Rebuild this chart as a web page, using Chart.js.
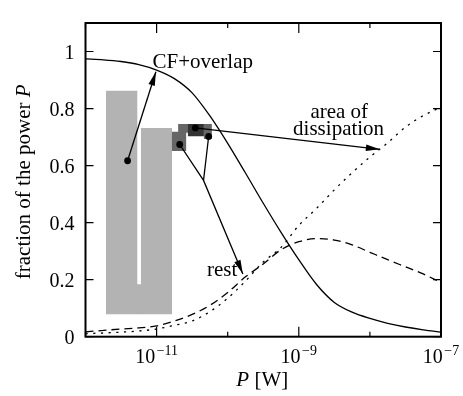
<!DOCTYPE html>
<html>
<head>
<meta charset="utf-8">
<script src="https://cdn.jsdelivr.net/npm/chart.js@4.4.0/dist/chart.umd.min.js"></script>
<style>
  html, body { margin: 0; padding: 0; background: #fff; }
  #wrap { width: 463px; height: 396px; }
</style>
</head>
<body>
<div id="wrap"><canvas id="chart"></canvas></div>
<script>
// Fractions of the power P, sampled at log10(P / W)
const exponents   = [-12, -11.75, -11.5, -11.25, -11, -10.75, -10.5, -10.25, -10, -9.75, -9.5,
                     -9.25, -9, -8.75, -8.5, -8.25, -8, -7.75, -7.5, -7.25, -7];
const cfOverlap   = [0.974, 0.971, 0.965, 0.954, 0.935, 0.905, 0.855, 0.774, 0.678, 0.574, 0.468,
                     0.366, 0.27, 0.183, 0.12, 0.086, 0.064, 0.047, 0.034, 0.024, 0.016];
const rest        = [0.017, 0.022, 0.027, 0.031, 0.038, 0.055, 0.078, 0.11, 0.155, 0.21, 0.255,
                     0.305, 0.333, 0.344, 0.339, 0.322, 0.296, 0.27, 0.245, 0.22, 0.19];
const dissipation = [0.011, 0.013, 0.016, 0.02, 0.027, 0.04, 0.055, 0.088, 0.135, 0.195, 0.262,
                     0.313, 0.39, 0.45, 0.515, 0.575, 0.63, 0.68, 0.735, 0.775, 0.805];

const yTicks = [0, 0.2, 0.4, 0.6, 0.8, 1];
const yTickLabels = ['0', '0.2', '0.4', '0.6', '0.8', '1'];
const xDecades = [-12, -11, -10, -9, -8, -7];
const xLabelled = [-11, -9, -7];
const xTickLabels = ['\u221211', '\u22129', '\u22127'];

// shaded blocks: [from exponent, to exponent, bottom, top]
const lightBlocks = [[-11.712, -11.268, 0.079, 0.862], [-11.28, -11.21, 0.079, 0.184], [-11.222, -10.783, 0.079, 0.732]];
const mediumBlocks = [[-10.787, -10.581, 0.651, 0.719], [-10.698, -10.558, 0.715, 0.746], [-10.338, -10.222, 0.693, 0.746]];
const darkBlocks = [[-10.562, -10.334, 0.703, 0.746]];

// annotation arrows, [exponent, fraction]; arrowhead on the last point
const arrowCF = [[-11.408, 0.617], [-11.01, 0.929]];
const arrowDiss = [[-10.455, 0.732], [-7.86, 0.657]];
const arrowRest = [[-10.675, 0.674], [-10.34, 0.548], [-9.787, 0.22]];
const restBranch = [[-10.268, 0.702], [-10.34, 0.548]];
const dots = [[-11.408, 0.617], [-10.455, 0.732], [-10.675, 0.674], [-10.268, 0.702]];

const notes = [
    { text: 'CF+overlap', at: [-11.058, 0.9416], align: 'left' },
    { text: 'area of', at: [-8.431, 0.768], align: 'center' },
    { text: 'dissipation', at: [-8.44, 0.709], align: 'center' },
    { text: 'rest', at: [-10.292, 0.214], align: 'left' }
];

const SERIF = '"Liberation Serif", "Times New Roman", serif';

const toPts = arr => arr.map(([e, v]) => ({ x: Math.pow(10, e), y: v }));
const curve = vals => exponents.map((e, i) => ({ x: Math.pow(10, e), y: vals[i] }));

function blockSets(blocks, color) {
    return blocks.map(b => ({
        data: [{ x: Math.pow(10, b[0]), y: b[3] }, { x: Math.pow(10, b[1]), y: b[3] }],
        fill: { value: b[2] },
        backgroundColor: color,
        borderColor: 'rgba(0,0,0,0)',
        borderWidth: 1,
        pointRadius: 0,
        tension: 0
    }));
}

function lineSet(data, dash, isArrow) {
    return {
        data: data,
        borderColor: '#000',
        borderWidth: 1.3,
        borderDash: dash,
        pointRadius: 0,
        fill: false,
        tension: 0,
        cubicInterpolationMode: isArrow ? 'default' : 'monotone',
        arrow: isArrow
    };
}

const datasets = [
    {
        data: toPts(dots),
        showLine: false,
        pointRadius: 3.4,
        pointBackgroundColor: '#000',
        pointBorderWidth: 0
    },
    lineSet(toPts(arrowCF), [], true),
    lineSet(toPts(arrowDiss), [], true),
    lineSet(toPts(arrowRest), [], true),
    lineSet(toPts(restBranch), [], false),
    lineSet(curve(cfOverlap), [], false),
    lineSet(curve(rest), [8, 5], false),
    lineSet(curve(dissipation), [2.2, 5.5], false),
    ...blockSets(darkBlocks, '#333333'),
    ...blockSets(mediumBlocks, '#666666'),
    ...blockSets(lightBlocks, '#b3b3b3')
];

const decorPlugin = {
    id: 'decor',
    afterDatasetsDraw(chart) {
        const { ctx } = chart;
        ctx.save();
        ctx.fillStyle = '#000';
        chart.data.datasets.forEach((ds, i) => {
            if (!ds.arrow) return;
            const pts = chart.getDatasetMeta(i).data;
            const tip = pts[pts.length - 1], from = pts[pts.length - 2];
            const ang = Math.atan2(tip.y - from.y, tip.x - from.x);
            ctx.save();
            ctx.translate(tip.x, tip.y);
            ctx.rotate(ang);
            ctx.beginPath();
            ctx.moveTo(0, 0);
            ctx.lineTo(-14, -3.3);
            ctx.lineTo(-14, 3.3);
            ctx.closePath();
            ctx.fill();
            ctx.restore();
        });
        ctx.restore();
    },
    afterDraw(chart) {
        const { ctx, chartArea: a, scales: { x, y } } = chart;
        ctx.save();
        ctx.strokeStyle = '#000';
        ctx.fillStyle = '#000';

        // inward ticks on all four sides
        ctx.lineWidth = 1.2;
        ctx.beginPath();
        yTicks.forEach(v => {
            const py = y.getPixelForValue(v);
            ctx.moveTo(a.left, py); ctx.lineTo(a.left + 8, py);
            ctx.moveTo(a.right, py); ctx.lineTo(a.right - 8, py);
        });
        xDecades.forEach(e => {
            const px = x.getPixelForValue(Math.pow(10, e));
            const len = xLabelled.includes(e) ? 10 : 5;
            ctx.moveTo(px, a.bottom); ctx.lineTo(px, a.bottom - len);
            ctx.moveTo(px, a.top); ctx.lineTo(px, a.top + len);
        });
        ctx.stroke();

        ctx.lineWidth = 2;
        ctx.strokeRect(a.left, a.top, a.right - a.left, a.bottom - a.top);

        // x tick labels 10^n
        ctx.textBaseline = 'alphabetic';
        ctx.textAlign = 'left';
        xLabelled.forEach((e, i) => {
            const px = x.getPixelForValue(Math.pow(10, e));
            ctx.font = '20px ' + SERIF;
            const wBase = ctx.measureText('10').width;
            ctx.font = '14px ' + SERIF;
            const wExp = ctx.measureText(xTickLabels[i]).width;
            const left = px - (wBase + 1.5 + wExp) / 2;
            ctx.font = '20px ' + SERIF;
            ctx.fillText('10', left, 363);
            ctx.font = '14px ' + SERIF;
            ctx.fillText(xTickLabels[i], left + wBase + 1.5, 355);
        });

        // x axis title: P [W]
        ctx.font = 'italic 21px ' + SERIF;
        const wP = ctx.measureText('P').width;
        ctx.font = '21px ' + SERIF;
        const wRest = ctx.measureText(' [W]').width;
        const cx = (a.left + a.right) / 2 - 1;
        let lx = cx - (wP + wRest) / 2;
        ctx.font = 'italic 21px ' + SERIF;
        ctx.fillText('P', lx, 386);
        ctx.font = '21px ' + SERIF;
        ctx.fillText(' [W]', lx + wP, 386);

        // y axis title
        ctx.save();
        ctx.translate(24, (a.top + a.bottom) / 2 + 2);
        ctx.rotate(-Math.PI / 2);
        ctx.textBaseline = 'middle';
        ctx.font = '21px ' + SERIF;
        const t1 = 'fraction of the power ';
        const w1 = ctx.measureText(t1).width;
        ctx.font = 'italic 21px ' + SERIF;
        const w2 = ctx.measureText('P').width;
        ctx.font = '21px ' + SERIF;
        ctx.fillText(t1, -(w1 + w2) / 2, 0);
        ctx.font = 'italic 21px ' + SERIF;
        ctx.fillText('P', -(w1 + w2) / 2 + w1, 0);
        ctx.restore();

        // annotation labels
        ctx.font = '21px ' + SERIF;
        ctx.textBaseline = 'alphabetic';
        notes.forEach(n => {
            ctx.textAlign = n.align;
            ctx.fillText(n.text, x.getPixelForValue(Math.pow(10, n.at[0])), y.getPixelForValue(n.at[1]));
        });
        ctx.restore();
    }
};

new Chart(document.getElementById('chart'), {
    type: 'line',
    data: { datasets: datasets },
    options: {
        responsive: true,
        maintainAspectRatio: false,
        animation: false,
        layout: { padding: { top: 11, right: 22, left: 0, bottom: 0 } },
        plugins: {
            legend: { display: false },
            tooltip: { enabled: false }
        },
        scales: {
            x: {
                type: 'logarithmic',
                min: 1e-12,
                max: 1e-7,
                grid: { display: false },
                border: { display: false },
                ticks: { display: false },
                afterFit: scale => { scale.height = 59.3; }
            },
            y: {
                min: 0,
                max: 1.1,
                grid: { display: false, drawTicks: false },
                border: { display: false },
                afterBuildTicks: scale => { scale.ticks = yTicks.map(v => ({ value: v })); },
                ticks: {
                    padding: 11,
                    labelOffset: 2,
                    color: '#000',
                    font: { family: SERIF, size: 20 },
                    callback: (v, i) => yTickLabels[i]
                },
                afterFit: scale => { scale.width = 85.5; }
            }
        }
    },
    plugins: [decorPlugin]
});
</script>
</body>
</html>
